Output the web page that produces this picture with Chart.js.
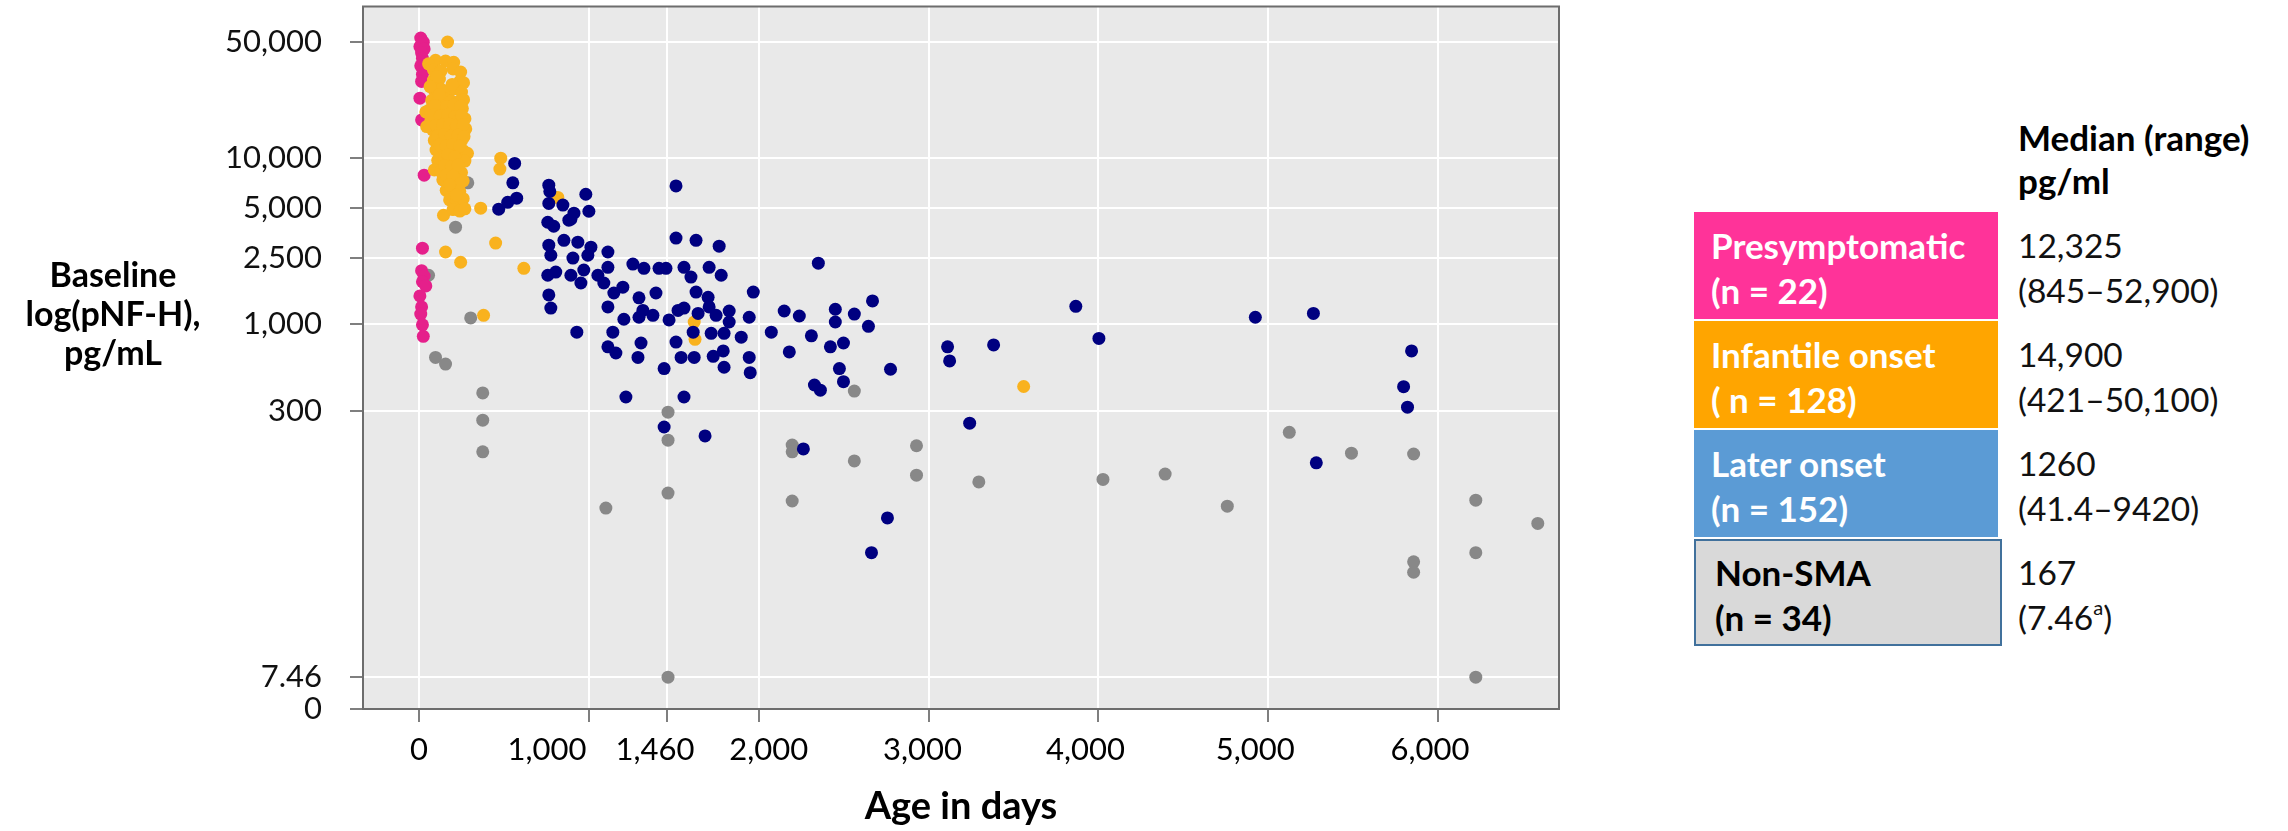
<!DOCTYPE html>
<html>
<head>
<meta charset="utf-8">
<script src="https://cdn.jsdelivr.net/npm/chart.js@4.4.1/dist/chart.umd.min.js"></script>
<style>
  body { margin: 0; background: #fff; }
  #wrap { position: relative; width: 2288px; height: 831px; overflow: hidden; }
  #chart { position: absolute; left: 0; top: 0; }
  .ytitle { position: absolute; left: 13px; width: 200px; top: 254px; text-align: center;
            font: bold 34px Lato, sans-serif; line-height: 39px; color: #000; }
  .line { position: absolute; white-space: nowrap; font-family: Lato, 'Open Sans', sans-serif;
          height: 44px; line-height: 44px; }
  .box { position: absolute; box-sizing: border-box; }
</style>
</head>
<body>
<div id="wrap">
  <canvas id="chart" width="1600" height="831"></canvas>
  <div class="ytitle">Baseline<br>log(pNF-H),<br>pg/mL</div>
  <div id="legend"></div>
</div>
<script>
// values: age in days / pNF-H in pg/mL
const presympX = [10, 25, 5, 30, 15, 20, 10, 20, 15, 5, 15, 30, 20, 15, 30, 20, 40, 5, 15, 10, 20, 25];
const presympY = [52900, 50000, 47000, 45500, 43000, 40000, 36000, 32000, 29000, 23000, 17000, 7900,
                  2870, 2100, 1950, 1800, 1700, 1480, 1270, 1150, 990, 845];

const infantX = [168, 481, 476, 363, 144, 451, 156, 245, 617, 380, 817, 1620, 1625, 3560,
  97, 156, 204, 56, 85, 130, 200, 245, 85, 120, 240, 262, 90, 130, 170, 210, 250,
  75, 110, 150, 190, 230, 262, 60, 100, 140, 180, 220, 255, 70, 110, 150, 190, 230, 270,
  80, 120, 160, 200, 240, 275, 90, 130, 170, 210, 250, 100, 140, 180, 220, 260, 285,
  110, 150, 190, 230, 270, 90, 130, 170, 210, 250, 140, 180, 220, 260, 160, 200, 240,
  180, 220, 260, 200, 240, 270, 40, 45,
  105, 65, 195, 120, 95, 165, 205, 245, 85, 125, 170, 210, 250, 100, 140, 180, 220, 260,
  110, 150, 190, 230, 265, 120, 160, 200, 240, 170, 210, 150, 190, 230, 160, 200, 240, 180, 220];
const infantY = [50100, 10000, 8600, 5000, 4530, 3080, 2720, 2360, 2170, 1130, 5800, 1030, 810, 421,
  38900, 38500, 37800, 37000, 34000, 33500, 34500, 33000, 29500, 30000, 29000, 28500, 25700, 26000, 25500, 26200, 25000,
  22300, 22000, 22800, 22100, 21800, 22500, 19500, 19800, 19200, 19600, 19000, 19900, 16900, 17200, 16600, 17000, 16800, 17300,
  14800, 14500, 15100, 14900, 14600, 15000, 12800, 13100, 12600, 12900, 12700, 11200, 11500, 11000, 11300, 11100, 10700,
  9700, 9900, 9500, 9800, 9600, 8500, 8300, 8600, 8400, 8200, 7400, 7200, 7500, 7300, 6400, 6600, 6300,
  5600, 5500, 5700, 4900, 4800, 4950, 19000, 15500,
  31000, 27000, 27800, 24200, 20800, 20500, 20900, 20600, 18200, 18000, 18300, 17800, 18100, 15800, 15900, 16000, 15700, 15900,
  13700, 13900, 13600, 13800, 13500, 12000, 11900, 12100, 11800, 10500, 10200, 9000, 8900, 9100, 7900, 7800, 7000, 6900, 6000];

const laterX = [563, 552, 575, 522, 469, 764, 770, 982, 1513,
  764, 847, 912, 1000, 894, 758, 793, 1513, 1631, 1767,
  764, 853, 935, 1012, 1112, 776, 906, 994,
  758, 805, 894, 970, 1112, 953, 1053, 1088, 1200, 1147,
  1259, 1324, 1413, 1454, 1560, 1601, 1708, 1779,
  764, 776, 1112, 1295, 1395, 1318, 1377, 1206, 1295, 1472, 1525, 1560,
  1631, 1702, 1708, 1643, 1749, 1826, 1826, 1944, 1968, 2150, 2239,
  929, 1141, 1614, 1720, 1796, 1897, 2074, 2180,
  1112, 1159, 1307, 1289, 1513, 1543, 1620, 1732, 1791, 1944, 1796, 1950, 1443,
  1218, 1560, 1443, 1684, 882,
  2351, 2451, 2451, 2563, 2670, 2646, 2310, 2422, 2499, 2475, 2499, 2328, 2363, 2776,
  3112, 3124, 3383, 3867, 4003, 3242, 2263, 2758, 2664,
  4924, 5266, 5844, 5797, 5820, 5283];
const laterY = [9300, 7100, 5740, 5420, 4930, 6880, 6300, 6060, 6800,
  5340, 5220, 4660, 4790, 4290, 4110, 3890, 3300, 3200, 2950,
  2990, 3200, 3120, 2910, 2720, 2600, 2500, 2600,
  1970, 2060, 1970, 2120, 2200, 1770, 1970, 1770, 1670, 1540,
  2300, 2170, 2170, 2170, 2200, 1920, 2200, 1970,
  1500, 1250, 1270, 1440, 1540, 1210, 1130, 1070, 1100, 1060, 1210, 1250,
  1560, 1450, 1270, 1160, 1130, 1200, 1030, 1100, 1560, 1200, 1120,
  895, 895, 895, 880, 880, 835, 895, 680,
  730, 670, 770, 630, 780, 630, 630, 640, 690, 630, 550, 510, 540,
  364, 364, 240, 212, 4230,
  2330, 1230, 1030, 1150, 1380, 970, 850, 730, 770, 540, 450, 430, 400, 535,
  730, 600, 750, 1280, 820, 253, 177, 68, 42,
  1100, 1160, 690, 420, 316, 146];

const nonSmaX = [287, 215, 56, 304, 97, 156, 375, 375, 375, 1100, 1466, 1466, 1466, 1466,
  2563, 2197, 2197, 2563, 2929, 2929, 2197, 3296, 4027, 4393, 4759, 5124, 5490,
  5856, 5856, 5856, 6222, 6222, 6222, 6587];
const nonSmaY = [7100, 3840, 1970, 1090, 630, 575, 385, 264, 170, 78, 295, 200, 96, 7.46,
  395, 187, 170, 150, 185, 123, 86, 112, 116, 125, 80, 223, 167,
  165, 37, 32, 87, 42, 7.46, 63];

const xTicks = [0, 1000, 1460, 2000, 3000, 4000, 5000, 6000];
const yTicks = [7.46, 300, 1000, 2500, 5000, 10000, 50000];
const yFloor = 4.8; // bottom of the axis, labelled "0"

// side table
const groupNames = ['Presymptomatic', 'Infantile onset', 'Later onset', 'Non-SMA'];
const groupN = ['(n = 22)', '( n = 128)', '(n = 152)', '(n = 34)'];
const groupMedian = ['12,325', '14,900', '1260', '167'];
const groupRange = ['(845\u201352,900)', '(421\u201350,100)', '(41.4\u20139420)',
  '(7.46<span style="font-size:60%;position:relative;top:-0.75em">a</span>)'];
const boxColors = ['#FF3399', '#FFA500', '#5B9BD5', '#D9D9D9'];
const dotColors = ['#E5208B', '#F9B21E', '#000080', '#888888'];

function pts(xs, ys) {
  return xs.map((x, i) => ({ x: x, y: ys[i] }));
}

function dots(label, xs, ys, color, order) {
  return {
    label: label,
    data: pts(xs, ys),
    backgroundColor: color,
    borderWidth: 0,
    pointRadius: 6.5,
    pointHoverRadius: 6.5,
    order: order
  };
}

const plotBg = {
  id: 'plotBg',
  beforeDraw(chart) {
    const { ctx, chartArea: a } = chart;
    ctx.save();
    ctx.fillStyle = '#e9e9e9';
    ctx.fillRect(a.left, a.top, a.right - a.left, a.bottom - a.top);
    ctx.restore();
  },
  afterDraw(chart) {
    const { ctx, chartArea: a } = chart;
    ctx.save();
    ctx.strokeStyle = '#6d6d6d';
    ctx.lineWidth = 2;
    ctx.strokeRect(a.left, a.top, a.right - a.left, a.bottom - a.top);
    ctx.restore();
  }
};

// the figure nudges a few x labels sideways so 1,000 and 1,460 do not collide
const xLabelNudge = { 1000: -42, 1460: -12, 2000: 10, 3000: -6, 4000: -13, 5000: -13, 6000: -8 };
const xTickLabels = {
  id: 'xTickLabels',
  afterDraw(chart) {
    const sx = chart.scales.x;
    const ctx = chart.ctx;
    ctx.save();
    ctx.font = '31px Lato';
    ctx.fillStyle = '#000';
    ctx.textAlign = 'center';
    ctx.textBaseline = 'middle';
    xTicks.forEach(v => {
      ctx.fillText(v.toLocaleString('en-US'), sx.getPixelForValue(v) + (xLabelNudge[v] || 0), sx.top + 41);
    });
    ctx.restore();
  }
};

function noPad(scale) {
  scale.paddingTop = 0;
  scale.paddingBottom = 0;
  scale.paddingLeft = 0;
  scale.paddingRight = 0;
}

const ctx = document.getElementById('chart').getContext('2d');
new Chart(ctx, {
  type: 'scatter',
  data: {
    datasets: [
      dots(groupNames[2], laterX, laterY, dotColors[2], 1),
      dots(groupNames[1], infantX, infantY, dotColors[1], 2),
      dots(groupNames[0], presympX, presympY, dotColors[0], 3),
      dots(groupNames[3], nonSmaX, nonSmaY, dotColors[3], 4)
    ]
  },
  options: {
    responsive: false,
    devicePixelRatio: 1,
    animation: false,
    layout: { padding: { left: 0, top: 6, right: 41, bottom: 0 } },
    plugins: { legend: { display: false }, tooltip: { enabled: false } },
    scales: {
      x: {
        type: 'linear',
        min: -330,
        max: 6712,
        afterBuildTicks: (scale) => { scale.ticks = xTicks.map(v => ({ value: v })); },
        afterFit: (scale) => { scale.height = 122; noPad(scale); },
        ticks: { display: false, autoSkip: false },
        grid: { color: '#ffffff', lineWidth: 2, tickColor: '#555', tickWidth: 1.5, tickLength: 13 },
        border: { color: '#6d6d6d', width: 2 },
        title: {
          display: true,
          text: 'Age in days',
          color: '#000',
          font: { family: 'Lato', size: 38, weight: 'bold' },
          padding: { top: 0, bottom: 1 }
        }
      },
      y: {
        type: 'logarithmic',
        min: yFloor,
        max: 82000,
        afterBuildTicks: (scale) => { scale.ticks = [yFloor].concat(yTicks).map(v => ({ value: v })); },
        afterFit: (scale) => { scale.width = 363; noPad(scale); },
        ticks: {
          autoSkip: false,
          padding: 28,
          color: '#111',
          font: { family: 'Lato', size: 31 },
          callback: (v) => v === yFloor ? '0' : v.toLocaleString('en-US')
        },
        grid: {
          color: (c) => (c.tick && c.tick.value === yFloor) ? 'rgba(0,0,0,0)' : '#ffffff',
          lineWidth: 2,
          tickColor: '#555',
          tickWidth: 1.5,
          tickLength: 13
        },
        border: { color: '#6d6d6d', width: 2 }
      }
    }
  },
  plugins: [plotBg, xTickLabels]
});

// table on the right
const legend = document.getElementById('legend');
const boxTop = [212, 321, 430, 539];
let html = '';
html += '<div class="line" style="left:2018px;top:115px;font-size:35px;font-weight:bold;">Median (range)</div>';
html += '<div class="line" style="left:2018px;top:158px;font-size:35px;font-weight:bold;">pg/ml</div>';
groupNames.forEach((name, i) => {
  const t = boxTop[i];
  const dark = i === 3;
  const border = dark ? 'border:2px solid #41719C;' : '';
  const w = dark ? 308 : 304;
  html += '<div class="box" style="left:1694px;top:' + t + 'px;width:' + w + 'px;height:107px;background:' + boxColors[i] + ';' + border + '"></div>';
  const txtLeft = dark ? 1715 : 1711;
  const col = dark ? '#000' : '#fff';
  html += '<div class="line" style="left:' + txtLeft + 'px;top:' + (t + 11) + 'px;font-size:35px;font-weight:bold;color:' + col + ';">' + name + '</div>';
  html += '<div class="line" style="left:' + txtLeft + 'px;top:' + (t + 56) + 'px;font-size:35px;font-weight:bold;color:' + col + ';">' + groupN[i] + '</div>';
  html += '<div class="line" style="left:2018px;top:' + (t + 11) + 'px;font-size:33.5px;color:#111;">' + groupMedian[i] + '</div>';
  html += '<div class="line" style="left:2018px;top:' + (t + 56) + 'px;font-size:33.5px;color:#111;">' + groupRange[i] + '</div>';
});
legend.innerHTML = html;
</script>
</body>
</html>
